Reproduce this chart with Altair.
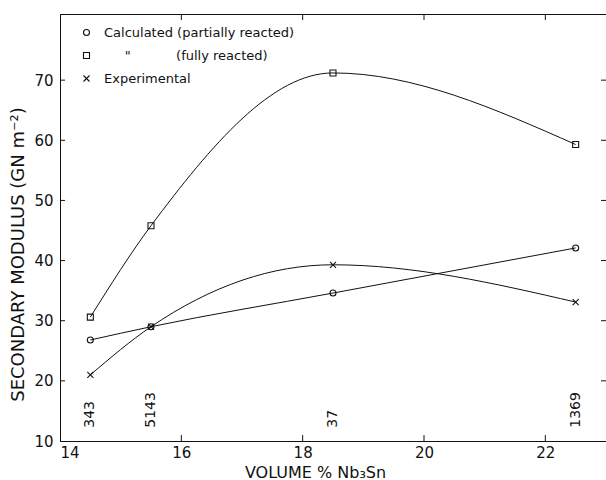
import altair as alt
import pandas as pd

# ---- data ----
volume = [14.5, 15.5, 18.5, 22.5]
partial = [26.8, 29.0, 34.6, 42.1]
full = [30.6, 45.8, 71.2, 59.3]
experimental = [21.0, 29.0, 39.3, 33.1]
series_keys = ["a_partial", "b_full", "c_exp"]
NB = "\u00a0"
ZW = "\u200b"
series_labels = [
    "Calculated (partially reacted)",
    ZW + NB * 5 + "\"" + NB * 11 + "(fully reacted)",
    "Experimental",
]
annot_labels = ["343", "5143", "37", "1369"]
annot_level = 12.2
x_ticks = [14, 16, 18, 20, 22]
x_inner_ticks = [16, 18, 20, 22]
y_ticks = [10, 20, 30, 40, 50, 60, 70]
y_inner_ticks = [20, 30, 40, 50, 60, 70]

FONT = "DejaVu Sans"
INK = "#111111"
W, H = 546, 427

rows = []
for key, vals in zip(series_keys, [partial, full, experimental]):
    for xv, yv in zip(volume, vals):
        rows.append({"x": xv, "y": yv, "series": key})
df = pd.DataFrame(rows)
ann = pd.DataFrame({"x": volume, "y": [annot_level] * 4, "label": annot_labels})

label_expr = (
    f"datum.label == '{series_keys[0]}' ? '{series_labels[0]}' : "
    f"datum.label == '{series_keys[1]}' ? '{series_labels[1]}' : '{series_labels[2]}'"
)

xscale = alt.Scale(domain=[14, 23], nice=False, zero=False)
yscale = alt.Scale(domain=[10, 81], nice=False, zero=False)

x_enc = alt.X(
    "x:Q", scale=xscale,
    axis=alt.Axis(
        values=x_ticks, format="d", ticks=False, grid=False, domain=True,
        domainColor=INK, labelFont=FONT, labelFontSize=15, labelColor=INK,
        labelPadding=4,
        title="VOLUME %  Nb\u2083Sn", titleFont=FONT, titleFontSize=16,
        titleFontWeight="normal", titleColor=INK,
        titleX=255, titleY=31, titleBaseline="middle", titleAlign="center",
    ),
)
y_enc = alt.Y(
    "y:Q", scale=yscale,
    axis=alt.Axis(
        values=y_ticks, format="d", ticks=False, grid=False, domain=True,
        domainColor=INK, labelFont=FONT, labelFontSize=15, labelColor=INK,
        labelPadding=7,
        title="SECONDARY  MODULUS  (GN m\u207b\u00b2)", titleFont=FONT,
        titleFontSize=18, titleFontWeight="normal", titleColor=INK,
        titleAngle=270, titleX=-42, titleY=240, titleAlign="center",
        titleBaseline="middle",
    ),
)

lines = alt.Chart(df).mark_line(
    interpolate="monotone", color=INK, strokeWidth=1
).encode(x=x_enc, y=y_enc, detail="series:N")

xpath = "M-1,-1L1,1M1,-1L-1,1"
points = alt.Chart(df).mark_point(
    filled=False, color=INK, size=36, strokeWidth=1.1, opacity=1
).encode(
    x=alt.X("x:Q", scale=xscale),
    y=alt.Y("y:Q", scale=yscale),
    shape=alt.Shape(
        "series:N",
        scale=alt.Scale(domain=series_keys, range=["circle", "square", xpath]),
        legend=alt.Legend(
            title=None, orient="none", legendX=20, legendY=12,
            labelFont=FONT, labelFontSize=13, labelColor=INK,
            labelOffset=11, rowPadding=9, labelExpr=label_expr,
            symbolStrokeColor=INK, symbolFillColor="transparent",
            symbolStrokeWidth=1.1, symbolSize=36, padding=0,
            labelLimit=400,
        ),
    ),
)

texts = alt.Chart(ann).mark_text(
    angle=270, align="left", baseline="middle", font=FONT, fontSize=14,
    color=INK,
).encode(x=alt.X("x:Q", scale=xscale), y=alt.Y("y:Q", scale=yscale), text="label:N")

# inward tick marks on all four sides
yt = pd.DataFrame({"v": y_inner_ticks})
xt = pd.DataFrame({"v": x_inner_ticks})
left_ticks = alt.Chart(yt).mark_rule(color=INK, strokeWidth=1).encode(
    y=alt.Y("v:Q", scale=yscale), x=alt.value(0), x2=alt.value(5))
right_ticks = alt.Chart(yt).mark_rule(color=INK, strokeWidth=1).encode(
    y=alt.Y("v:Q", scale=yscale), x=alt.value(W - 5), x2=alt.value(W))
bottom_ticks = alt.Chart(xt).mark_rule(color=INK, strokeWidth=1).encode(
    x=alt.X("v:Q", scale=xscale), y=alt.value(H), y2=alt.value(H - 6))
top_ticks = alt.Chart(xt).mark_rule(color=INK, strokeWidth=1).encode(
    x=alt.X("v:Q", scale=xscale), y=alt.value(0), y2=alt.value(6))

chart = alt.layer(
    lines, points, texts, left_ticks, right_ticks, bottom_ticks, top_ticks
).properties(
    width=W, height=H,
    autosize=alt.AutoSizeParams(type="none"),
    padding={"left": 60, "top": 14, "right": 0, "bottom": 39},
    background="white",
).configure_view(stroke=INK, strokeWidth=1)

chart.save("out.html", embed_options={"renderer": "svg", "actions": False})
